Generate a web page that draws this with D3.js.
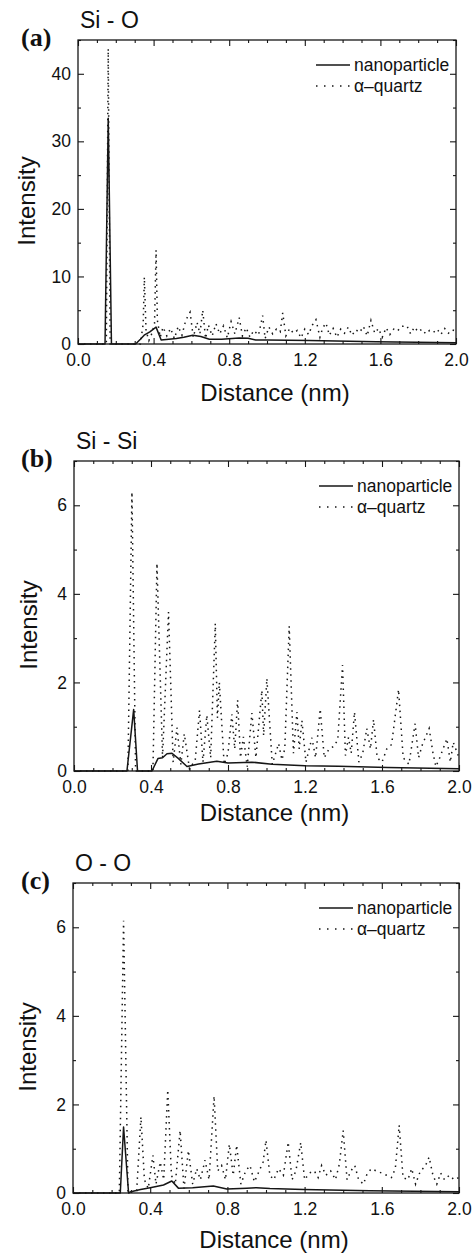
<!DOCTYPE html>
<html>
<head>
<meta charset="utf-8">
<script src="https://cdn.jsdelivr.net/npm/d3@7"></script>
<style>
  body { margin: 0; background: #fff; }
  svg text { font-family: Arial, "Liberation Sans", sans-serif; fill: #111; }
</style>
</head>
<body>
<div id="chart"></div>
<script>
// ---- data (distance nm, intensity) ----
const distanceTicks = [0, 0.4, 0.8, 1.2, 1.6, 2.0];
const panelLabels = ["(a)", "(b)", "(c)"];
const pairNames = ["Si - O", "Si - Si", "O - O"];
const seriesNames = ["nanoparticle", "\u03b1\u2013quartz"];
const yMax = [45, 7, 7];
const yMajorTicks = [[0, 10, 20, 30, 40], [0, 2, 4, 6], [0, 2, 4, 6]];
const yMinorTicks = [[5, 15, 25, 35, 45], [1, 3, 5, 7], [1, 3, 5, 7]];

const siO_nano = [[0,0],[0.143,0],[0.16,33.4],[0.177,0],[0.305,0],[0.33,0.7],[0.35,1.3],[0.38,1.8],[0.413,2.5],
  [0.44,0.6],[0.48,0.7],[0.52,0.8],[0.56,1.0],[0.607,1.3],[0.65,1.1],[0.695,0.7],[0.76,0.7],[0.853,0.9],
  [0.9,0.85],[0.94,0.6],[1.0,0.6],[1.224,0.5],[1.577,0.35],[2.0,0.2]];
const siO_quartz = [[0,0],[0.15,0],[0.16,43.7],[0.17,0],[0.33,0],[0.345,3],[0.351,9.9],[0.36,2],[0.375,0.5],
  [0.39,1.5],[0.405,3],[0.413,13.9],[0.42,3.5],[0.435,1.0],[0.45,2.5],[0.47,1.2],[0.49,2.3],[0.51,0.8],
  [0.53,2.6],[0.55,1.3],[0.57,3.5],[0.593,4.7],[0.61,1.0],[0.63,3.2],[0.645,1.5],[0.66,5.0],[0.675,0.8],
  [0.69,2.8],[0.71,1.2],[0.73,3.0],[0.75,1.5],[0.77,2.7],[0.79,0.9],[0.81,3.3],[0.83,1.5],[0.853,3.9],
  [0.87,1.2],[0.89,2.4],[0.91,1.0],[0.93,2.0],[0.955,1.3],[0.977,4.2],[0.99,0.8],[1.01,2.5],[1.03,1.5],
  [1.05,2.2],[1.07,1.8],[1.083,4.6],[1.10,1.2],[1.12,2.3],[1.14,1.6],[1.16,2.0],[1.18,0.9],[1.20,2.2],
  [1.22,1.4],[1.24,2.8],[1.259,3.6],[1.28,1.0],[1.295,2.4],[1.312,3.1],[1.33,1.3],[1.35,2.3],[1.37,1.0],
  [1.39,2.2],[1.41,1.6],[1.43,2.5],[1.45,1.3],[1.47,2.1],[1.49,1.7],[1.51,2.6],[1.53,1.2],[1.55,3.5],
  [1.57,1.6],[1.59,2.3],[1.61,1.0],[1.63,2.4],[1.65,1.4],[1.67,2.2],[1.69,1.9],[1.71,2.6],[1.74,2.7],
  [1.76,1.5],[1.78,2.5],[1.80,1.8],[1.82,2.2],[1.84,1.5],[1.86,2.0],[1.88,1.7],[1.90,2.2],[1.92,1.4],
  [1.94,2.3],[1.96,1.6],[1.98,2.1],[2.0,1.9]];

const siSi_nano = [[0,0],[0.275,0],[0.31,1.39],[0.33,0],[0.405,0],[0.436,0.28],[0.46,0.3],[0.483,0.39],
  [0.509,0.4],[0.543,0.28],[0.587,0.1],[0.647,0.16],[0.742,0.22],[0.8,0.18],[0.924,0.2],[1.03,0.15],
  [1.2,0.12],[1.374,0.11],[1.63,0.08],[2.0,0.05]];
const siSi_quartz = [[0,0],[0.28,0],[0.301,6.3],[0.32,0],[0.41,0],[0.431,4.69],[0.46,0.3],[0.491,3.59],
  [0.515,0.2],[0.535,0.98],[0.555,0.15],[0.573,0.84],[0.6,0.05],[0.63,0.25],[0.652,1.37],[0.67,0.2],
  [0.69,1.26],[0.71,0.3],[0.734,3.33],[0.745,1.2],[0.755,2.0],[0.78,0.15],[0.8,0.4],[0.82,1.28],
  [0.835,0.5],[0.85,1.6],[0.865,0.3],[0.88,0.77],[0.9,0.1],[0.924,1.31],[0.945,0.3],[0.976,1.82],
  [0.985,0.8],[1.002,2.09],[1.03,0.15],[1.063,0.62],[1.08,0.25],[1.095,0.5],[1.118,3.27],[1.14,0.4],
  [1.158,1.33],[1.17,0.5],[1.184,1.14],[1.205,0.2],[1.236,0.75],[1.255,0.3],[1.279,1.4],[1.3,0.3],
  [1.325,0.5],[1.348,0.55],[1.37,0.7],[1.395,2.39],[1.41,0.35],[1.426,0.76],[1.44,0.4],[1.457,1.33],
  [1.48,0.2],[1.5,0.4],[1.521,0.96],[1.54,0.5],[1.556,1.16],[1.575,0.3],[1.6,0.2],[1.625,0.5],
  [1.65,0.6],[1.686,1.84],[1.71,0.3],[1.74,0.15],[1.772,1.07],[1.79,0.3],[1.81,0.6],[1.845,0.96],
  [1.865,0.4],[1.88,0.1],[1.9,0.3],[1.937,0.73],[1.955,0.2],[1.97,0.65],[2.0,0.3]];

const oO_nano = [[0,0],[0.245,0],[0.262,1.49],[0.288,0],[0.3,0.03],[0.35,0.08],[0.4,0.12],[0.469,0.18],
  [0.512,0.27],[0.546,0.11],[0.62,0.12],[0.727,0.16],[0.797,0.09],[0.9,0.11],[0.95,0.12],[1.02,0.1],
  [1.193,0.08],[1.538,0.05],[2.0,0.03]];
const oO_quartz = [[0,0],[0.24,0],[0.262,6.15],[0.285,0],[0.33,0.05],[0.352,1.72],[0.37,0.3],[0.39,0.1],
  [0.414,0.85],[0.43,0.2],[0.452,0.7],[0.47,0.3],[0.491,2.33],[0.51,0.4],[0.53,0.2],[0.555,1.41],
  [0.575,0.1],[0.598,0.96],[0.62,0.2],[0.641,0.55],[0.66,0.3],[0.684,0.74],[0.705,0.3],[0.731,2.19],
  [0.75,0.5],[0.77,0.62],[0.79,0.3],[0.81,1.1],[0.83,0.4],[0.848,1.08],[0.87,0.2],[0.895,0.5],
  [0.917,0.62],[0.94,0.25],[0.965,0.5],[0.985,0.7],[1.0,1.19],[1.02,0.4],[1.04,0.3],[1.065,0.55],
  [1.09,0.4],[1.115,1.15],[1.135,0.3],[1.155,0.5],[1.18,1.14],[1.2,0.3],[1.225,0.45],[1.25,0.5],
  [1.27,0.35],[1.288,0.62],[1.31,0.4],[1.335,0.5],[1.36,0.3],[1.38,0.65],[1.40,1.41],[1.42,0.3],
  [1.44,0.5],[1.46,0.62],[1.48,0.3],[1.505,0.2],[1.525,0.45],[1.547,0.55],[1.57,0.5],[1.6,0.45],
  [1.625,0.4],[1.65,0.35],[1.67,0.55],[1.69,1.53],[1.71,0.35],[1.735,0.3],[1.755,0.55],[1.775,0.2],
  [1.8,0.5],[1.825,0.6],[1.845,0.81],[1.865,0.4],[1.885,0.2],[1.905,0.45],[1.925,0.3],[1.95,0.4],
  [1.975,0.3],[2.0,0.35]];

const nanoSeries = [siO_nano, siSi_nano, oO_nano];
const quartzSeries = [siO_quartz, siSi_quartz, oO_quartz];

// ---- layout ----
const frames = [
  { left: 78, right: 456, top: 40, bottom: 344, xTitle: 57, yTitleX: 35 },
  { left: 74, right: 459, top: 461, bottom: 771, xTitle: 50, yTitleX: 37 },
  { left: 73, right: 459, top: 883, bottom: 1193, xTitle: 55, yTitleX: 36 }
];
const ink = "#161616";
const tickFont = 17.5;

const svg = d3.select("#chart").append("svg")
    .attr("width", 474)
    .attr("height", 1253);

function styleAxis(g) {
    g.select(".domain").remove();
    g.selectAll("line").attr("stroke", ink).attr("stroke-width", 1.1);
    g.attr("font-size", tickFont).attr("font-family", "Arial, 'Liberation Sans', sans-serif");
    g.selectAll("text").attr("fill", ink);
}

frames.forEach(function(f, i) {
    const g = svg.append("g");
    const x = d3.scaleLinear().domain([0, 2]).range([f.left, f.right]);
    const y = d3.scaleLinear().domain([0, yMax[i]]).range([f.bottom, f.top]);
    const xMinor = d3.range(0, 2.001, 0.1).filter(d => Math.abs(d / 0.4 - Math.round(d / 0.4)) > 0.01);

    // bottom axis (labels) + minor
    g.append("g").attr("transform", "translate(0," + f.bottom + ")")
        .call(d3.axisBottom(x).tickValues(distanceTicks).tickSizeInner(-6).tickSizeOuter(0)
            .tickPadding(10).tickFormat(d3.format(".1f")))
        .call(styleAxis);
    g.append("g").attr("transform", "translate(0," + f.bottom + ")")
        .call(d3.axisBottom(x).tickValues(xMinor).tickSizeInner(-3).tickSizeOuter(0).tickFormat(""))
        .call(styleAxis);
    // top axis mirror
    g.append("g").attr("transform", "translate(0," + f.top + ")")
        .call(d3.axisTop(x).tickValues(distanceTicks).tickSizeInner(-6).tickSizeOuter(0).tickFormat(""))
        .call(styleAxis);
    g.append("g").attr("transform", "translate(0," + f.top + ")")
        .call(d3.axisTop(x).tickValues(xMinor).tickSizeInner(-3).tickSizeOuter(0).tickFormat(""))
        .call(styleAxis);

    // left axis (labels) + minor
    g.append("g").attr("transform", "translate(" + f.left + ",0)")
        .call(d3.axisLeft(y).tickValues(yMajorTicks[i]).tickSizeInner(-6).tickSizeOuter(0)
            .tickPadding(7).tickFormat(d3.format("d")))
        .call(styleAxis);
    g.append("g").attr("transform", "translate(" + f.left + ",0)")
        .call(d3.axisLeft(y).tickValues(yMinorTicks[i]).tickSizeInner(-3).tickSizeOuter(0).tickFormat(""))
        .call(styleAxis);
    // right axis mirror
    g.append("g").attr("transform", "translate(" + f.right + ",0)")
        .call(d3.axisRight(y).tickValues(yMajorTicks[i]).tickSizeInner(-6).tickSizeOuter(0).tickFormat(""))
        .call(styleAxis);
    g.append("g").attr("transform", "translate(" + f.right + ",0)")
        .call(d3.axisRight(y).tickValues(yMinorTicks[i]).tickSizeInner(-3).tickSizeOuter(0).tickFormat(""))
        .call(styleAxis);

    const line = d3.line().x(d => x(d[0])).y(d => y(d[1]));

    // series
    g.append("path")
        .datum(quartzSeries[i])
        .attr("d", line)
        .attr("fill", "none")
        .attr("stroke", ink)
        .attr("stroke-width", 1.5)
        .attr("stroke-dasharray", "1.5,4.5");
    g.append("path")
        .datum(nanoSeries[i])
        .attr("d", line)
        .attr("fill", "none")
        .attr("stroke", ink)
        .attr("stroke-width", 1.5)
        .attr("stroke-linejoin", "round");

    // frame
    g.append("rect")
        .attr("x", f.left).attr("y", f.top)
        .attr("width", f.right - f.left).attr("height", f.bottom - f.top)
        .attr("fill", "none").attr("stroke", ink).attr("stroke-width", 1.3);

    // legend
    const lx = f.right - 140, ly = f.top + 25;
    [0, 1].forEach(function(k) {
        g.append("line")
            .attr("x1", lx).attr("x2", lx + 34)
            .attr("y1", ly + k * 21).attr("y2", ly + k * 21)
            .attr("stroke", ink)
            .attr("stroke-width", k === 0 ? 1.5 : 1.4)
            .attr("stroke-dasharray", k === 0 ? null : "1.5,6.5");
        g.append("text")
            .attr("x", lx + 38).attr("y", ly + k * 21)
            .attr("dy", "0.35em")
            .attr("font-size", 17.5)
            .text(seriesNames[k]);
    });

    // titles
    g.append("text")
        .attr("x", f.left + 2).attr("y", f.top - 12)
        .attr("font-size", 23)
        .text(pairNames[i]);
    g.append("text")
        .attr("x", 21).attr("y", f.top + 6)
        .attr("font-size", 26)
        .attr("font-weight", "bold")
        .style("font-family", "'Liberation Serif', 'Times New Roman', serif")
        .text(panelLabels[i]);
    g.append("text")
        .attr("x", (f.left + f.right) / 2 + 8).attr("y", f.bottom + f.xTitle)
        .attr("text-anchor", "middle")
        .attr("font-size", 24)
        .text("Distance (nm)");
    g.append("text")
        .attr("transform", "translate(" + f.yTitleX + "," + ((f.top + f.bottom) / 2 + 9) + ") rotate(-90)")
        .attr("text-anchor", "middle")
        .attr("font-size", 24)
        .text("Intensity");
});
</script>
</body>
</html>
